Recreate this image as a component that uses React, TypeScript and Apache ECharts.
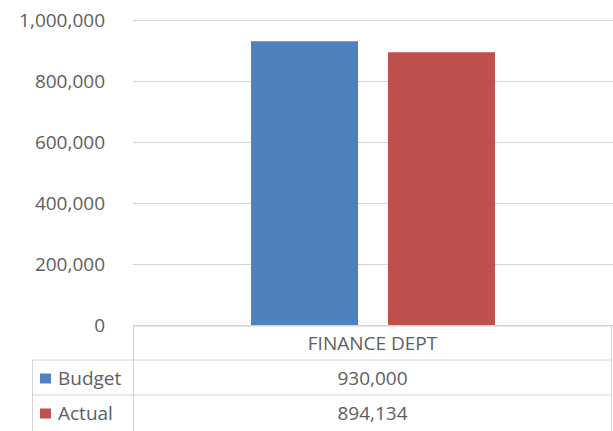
import React, { useEffect, useRef } from "react";
import * as echarts from "echarts";

const categories = ["FINANCE DEPT"];
const seriesNames = ["Budget", "Actual"];
const budgetValues = [930000];
const actualValues = [894134];
const seriesColors = ["#4F81BD", "#C0504D"];
const yTicks = [0, 200000, 400000, 600000, 800000, 1000000];

const fmt = (n: number) => String(n).replace(/\B(?=(\d{3})+(?!\d))/g, ",");

const W = 613;
const H = 431;
const GRID_LEFT = 133;
const GRID_RIGHT = 612;
const PLOT_RIGHT = 616;
const GRID_TOP = 20;
const GRID_BOTTOM_Y = 325;
const TABLE_LEFT = 32;
const ROW1 = 326;
const ROW2 = 360;
const ROW3 = 395;
const ROW_H = 35;
const LINE_COLOR = "#D4D4D4";
const TEXT_COLOR = "#5E5E5E";
const FONT = "'Open Sans', 'Noto Sans', sans-serif";
const FS = 19;

export default function App() {
  const ref = useRef<HTMLDivElement>(null);
  useEffect(() => {
    if (!ref.current) return;
    const chart = echarts.init(ref.current, undefined, { renderer: "svg" });
    const allSeries = [budgetValues, actualValues];
    const colCenter = (GRID_LEFT + GRID_RIGHT) / 2;
    const graphic: any[] = [];
    const line = (x1: number, y1: number, x2: number, y2: number) => ({
      type: "line",
      shape: { x1, y1, x2, y2 },
      style: { stroke: LINE_COLOR, lineWidth: 1 },
      silent: true,
    });
    graphic.push(line(GRID_LEFT, ROW1, GRID_RIGHT, ROW1));
    graphic.push(line(GRID_LEFT + 0.5, ROW1, GRID_LEFT + 0.5, H));
    graphic.push(line(GRID_RIGHT - 0.5, ROW1, GRID_RIGHT - 0.5, H));
    graphic.push(line(TABLE_LEFT, ROW2, GRID_RIGHT, ROW2));
    graphic.push(line(TABLE_LEFT, ROW3, GRID_RIGHT, ROW3));
    graphic.push(line(TABLE_LEFT + 0.5, ROW2, TABLE_LEFT + 0.5, H));
    categories.forEach((c) => {
      graphic.push({
        type: "text",
        x: colCenter,
        y: ROW1 + 17,
        style: {
          text: c,
          fill: TEXT_COLOR,
          font: `${FS}px ${FONT}`,
          align: "center",
          verticalAlign: "middle",
        },
      });
    });
    const rowTops = [ROW2, ROW3];
    seriesNames.forEach((name, i) => {
      const cy = rowTops[i] + ROW_H / 2;
      graphic.push({
        type: "rect",
        shape: { x: 40, y: cy - 4, width: 11, height: 10 },
        style: { fill: seriesColors[i] },
      });
      graphic.push({
        type: "text",
        x: 58,
        y: cy,
        style: {
          text: name,
          fill: TEXT_COLOR,
          font: `${FS}px ${FONT}`,
          align: "left",
          verticalAlign: "middle",
        },
      });
      graphic.push({
        type: "text",
        x: colCenter,
        y: cy,
        style: {
          text: fmt(allSeries[i][0]),
          fill: TEXT_COLOR,
          font: `${FS}px ${FONT}`,
          align: "center",
          verticalAlign: "middle",
        },
      });
    });

    chart.setOption({
      animation: false,
      backgroundColor: "#ffffff",
      grid: {
        left: GRID_LEFT,
        right: W - PLOT_RIGHT,
        top: GRID_TOP,
        bottom: H - GRID_BOTTOM_Y,
        containLabel: false,
      },
      xAxis: {
        type: "category",
        data: categories,
        axisLabel: { show: false },
        axisTick: { show: false },
        axisLine: { show: false },
      },
      yAxis: {
        type: "value",
        min: yTicks[0],
        max: yTicks[yTicks.length - 1],
        interval: yTicks[1] - yTicks[0],
        axisLine: { show: false },
        axisTick: { show: false },
        axisLabel: {
          formatter: (v: number) => fmt(v),
          color: TEXT_COLOR,
          fontSize: FS,
          fontFamily: FONT,
          margin: 28,
        },
        splitLine: { lineStyle: { color: LINE_COLOR, width: 1 } },
      },
      series: seriesNames.map((name, i) => ({
        name,
        type: "bar",
        data: allSeries[i],
        barWidth: 107,
        barGap: "28%",
        itemStyle: { color: seriesColors[i] },
      })),
      graphic,
    });
    return () => chart.dispose();
  }, []);
  return (
    <div
      ref={ref}
      style={{ position: "fixed", left: 0, top: 0, width: W, height: H, background: "#fff" }}
    />
  );
}
